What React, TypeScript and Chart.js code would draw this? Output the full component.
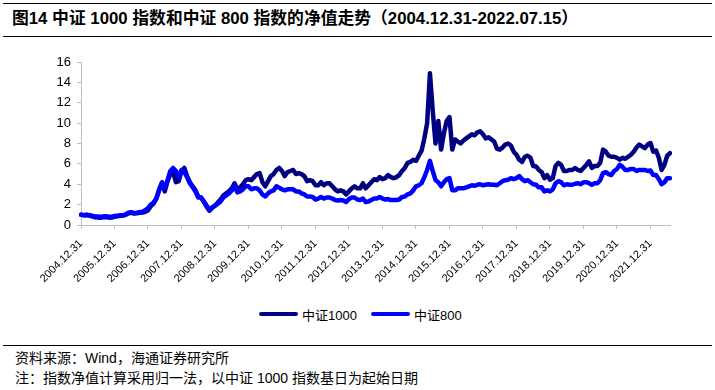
import React, { useEffect, useRef } from "react";
import { Chart, registerables } from "chart.js";
Chart.register(...registerables);

const titleText = "图14 中证 1000 指数和中证 800 指数的净值走势（2004.12.31-2022.07.15）";
const seriesNames = ["中证1000", "中证800"];
const seriesColors = ["#000080", "#0000ff"];
const sourceText = "资料来源：Wind，海通证券研究所";
const noteText = "注：指数净值计算采用归一法，以中证 1000 指数基日为起始日期";

const yearTicks = [
  "2004.12.31", "2005.12.31", "2006.12.31", "2007.12.31", "2008.12.31", "2009.12.31",
  "2010.12.31", "2011.12.31", "2012.12.31", "2013.12.31", "2014.12.31", "2015.12.31",
  "2016.12.31", "2017.12.31", "2018.12.31", "2019.12.31", "2020.12.31", "2021.12.31",
];
const yTicks = [0, 2, 4, 6, 8, 10, 12, 14, 16];

// month-end values, 2004.12 -> 2022.07
const csi1000 = [
  1.0,
  0.95, 0.98, 0.93, 0.86, 0.75, 0.74, 0.7, 0.77, 0.78, 0.72, 0.74, 0.8,
  0.85, 0.9, 0.92, 1.0, 1.15, 1.2, 1.12, 1.15, 1.2, 1.22, 1.3, 1.45,
  1.85, 2.1, 2.6, 3.5, 4.2, 3.3, 4.3, 5.0, 5.2, 4.2, 4.3, 5.3,
  5.6, 4.8, 4.2, 3.8, 3.4, 2.8, 2.7, 2.3, 1.8, 1.4, 1.7, 1.9,
  2.2, 2.5, 2.9, 3.1, 3.3, 3.6, 4.1, 3.5, 3.7, 4.0, 4.4, 4.5,
  4.4, 4.7, 5.0, 5.1, 4.2, 3.8, 4.3, 4.8, 5.0, 5.4, 5.6, 5.3,
  4.8, 5.2, 5.3, 5.4, 5.0, 5.1, 5.0, 4.8, 4.3, 4.4, 4.3, 3.9,
  3.9, 4.2, 3.9, 4.1, 4.1, 3.8, 3.5, 3.3, 3.4, 3.3, 3.0, 3.3,
  3.6, 3.8, 3.6, 3.6, 4.1, 3.6, 3.9, 4.2, 4.5, 4.4, 4.7, 4.5,
  4.6, 4.9, 4.7, 4.6, 4.7, 4.9, 5.3, 5.6, 6.1, 6.2, 6.4, 6.3,
  6.8, 7.3, 8.5, 10.0, 14.9, 11.2, 8.0, 10.2, 7.4, 9.0, 10.2, 10.6,
  7.4, 8.4, 8.2, 8.0, 8.3, 8.5, 8.7, 8.9, 8.8, 9.1, 9.2, 8.9,
  8.5, 8.6, 8.4, 8.2, 7.5, 7.4, 7.6, 7.9, 8.0, 7.8, 7.2, 6.9,
  6.4, 6.2, 6.7, 6.8, 6.6, 5.8, 5.75, 5.4, 5.2, 4.6, 4.9, 4.45,
  4.6, 5.8, 6.1, 5.9, 5.3, 5.3, 5.4, 5.4, 5.6, 5.4, 5.3, 5.6,
  5.9, 6.25, 5.6, 5.8, 5.8, 6.1, 7.4, 7.2, 6.8, 6.7, 6.7, 6.6,
  6.4, 6.6, 6.5, 6.7, 6.9, 7.2, 7.6, 7.9, 7.7, 7.55, 7.9, 8.05,
  7.2, 7.3, 6.6, 5.4, 5.9, 6.8, 7.05,
];
const csi800 = [
  1.0,
  0.97, 1.0, 0.95, 0.9, 0.84, 0.83, 0.8, 0.85, 0.85, 0.82, 0.82, 0.88,
  0.92, 0.95, 0.95, 1.05, 1.2, 1.25, 1.18, 1.2, 1.25, 1.3, 1.45, 1.65,
  2.0, 2.2, 2.6, 3.4, 4.1, 3.6, 4.4, 5.3, 5.6, 5.3, 4.7, 5.4,
  5.2, 4.7, 4.1, 3.7, 3.3, 2.7, 2.7, 2.3, 1.9, 1.5, 1.7, 1.9,
  2.1, 2.3, 2.7, 2.9, 3.1, 3.4, 3.8, 3.2, 3.3, 3.5, 3.8, 3.8,
  3.5, 3.6, 3.6, 3.4, 3.0, 2.8, 3.1, 3.3, 3.4, 3.8, 3.65, 3.5,
  3.4, 3.5, 3.5, 3.5, 3.3, 3.3, 3.1, 3.0, 2.8, 2.8, 2.75, 2.5,
  2.6, 2.75, 2.6, 2.7, 2.7, 2.6, 2.45, 2.4, 2.45, 2.4, 2.25, 2.55,
  2.7, 2.7, 2.5, 2.45, 2.6, 2.25, 2.3, 2.45, 2.6, 2.6, 2.75, 2.6,
  2.5, 2.55, 2.45, 2.45, 2.45, 2.5, 2.75, 2.8, 3.0, 3.1, 3.4, 3.8,
  3.9, 4.1, 4.7, 5.4, 6.3, 5.3, 4.4, 4.2, 3.8, 4.2, 4.5, 4.6,
  3.4, 3.4, 3.6, 3.6, 3.6, 3.7, 3.8, 3.9, 3.85, 3.95, 4.0, 3.9,
  3.95, 4.0, 3.95, 3.95, 3.9, 4.1, 4.3, 4.4, 4.45, 4.6, 4.5, 4.6,
  4.8, 4.5, 4.3, 4.4, 4.2, 4.0, 3.95, 3.7, 3.7, 3.3, 3.4, 3.3,
  3.5, 4.1, 4.3, 4.2, 3.9, 4.0, 3.95, 3.95, 4.05, 4.1, 4.0, 4.2,
  4.2, 4.1, 3.95, 4.1, 4.1, 4.4, 5.1, 5.2, 5.0, 4.9, 5.3, 5.5,
  5.9, 5.7, 5.4, 5.4, 5.5, 5.5, 5.3, 5.4, 5.4, 5.4, 5.3, 5.35,
  4.9, 4.9, 4.5, 4.0, 4.2, 4.6, 4.6,
];

const months: string[] = [];
for (let i = 0; i < csi1000.length; i++) {
  const t = 11 + i;
  months.push(`${2004 + Math.floor(t / 12)}.${String((t % 12) + 1).padStart(2, "0")}`);
}

const latin = '"Liberation Sans", Arial, "Noto Sans CJK SC", sans-serif';
const axisColor = "#bfbfbf";

export default function App() {
  const ref = useRef<HTMLCanvasElement | null>(null);
  useEffect(() => {
    document.body.style.margin = "0";
    if (!ref.current) return;
    const chart = new Chart(ref.current, {
      type: "line",
      data: {
        labels: months,
        datasets: [
          {
            label: seriesNames[0],
            data: csi1000,
            borderColor: seriesColors[0],
            backgroundColor: seriesColors[0],
            borderWidth: 4.5,
            pointRadius: 0,
            borderCapStyle: "round",
            borderJoinStyle: "round",
            order: 1,
          },
          {
            label: seriesNames[1],
            data: csi800,
            borderColor: seriesColors[1],
            backgroundColor: seriesColors[1],
            borderWidth: 4.5,
            pointRadius: 0,
            borderCapStyle: "round",
            borderJoinStyle: "round",
            order: 0,
          },
        ],
      },
      options: {
        animation: false,
        responsive: false,
        maintainAspectRatio: false,
        events: [],
        layout: { padding: { top: 22, right: 45, left: 0, bottom: 0 } },
        plugins: { legend: { display: false }, tooltip: { enabled: false } },
        scales: {
          x: {
            type: "category",
            offset: false,
            border: { display: true, color: axisColor, width: 1 },
            grid: {
              drawOnChartArea: false,
              drawTicks: true,
              tickLength: 4,
              color: (ctx: any) => (ctx.index % 12 === 0 ? axisColor : "rgba(0,0,0,0)"),
            },
            ticks: {
              autoSkip: false,
              minRotation: 45,
              maxRotation: 45,
              padding: 8,
              color: "#000",
              font: { family: latin, size: 11 },
              callback: (_v: any, idx: number) => (idx % 12 === 0 ? yearTicks[idx / 12] ?? "" : ""),
            },
            afterFit: (s: any) => {
              s.height = 70;
              s.paddingLeft = 0;
              s.paddingRight = 0;
            },
          },
          y: {
            min: 0,
            max: 16,
            border: { display: true, color: axisColor, width: 1 },
            grid: { drawOnChartArea: false, tickLength: 4, color: axisColor },
            afterBuildTicks: (s: any) => {
              s.ticks = yTicks.map((v) => ({ value: v }));
            },
            ticks: {
              padding: 6,
              color: "#000",
              font: { family: latin, size: 13 },
            },
            afterFit: (s: any) => {
              s.width = 81;
              s.paddingTop = 0;
              s.paddingBottom = 0;
            },
          },
        },
      },
    });
    return () => chart.destroy();
  }, []);

  const legendItem = (i: number, left: number) => (
    <div style={{ position: "absolute", left, top: 305, height: 18, display: "flex", alignItems: "center" }}>
      <div style={{ width: 39, height: 4, borderRadius: 2, background: seriesColors[i], marginRight: 4 }} />
      <span style={{ fontSize: 13, fontFamily: latin, color: "#000" }}>{seriesNames[i]}</span>
    </div>
  );

  return (
    <div
      style={{
        position: "fixed",
        left: 0,
        top: 0,
        width: 715,
        height: 390,
        background: "#fff",
        fontFamily: latin,
        color: "#000",
        overflow: "hidden",
      }}
    >
      <div style={{ position: "absolute", left: 3, right: 3, top: 3, height: 0, borderTop: "1.5px solid #000" }} />
      <div
        style={{
          position: "absolute",
          left: 12,
          top: 8,
          fontSize: 16.8,
          fontWeight: "bold",
          whiteSpace: "nowrap",
          lineHeight: "22px",
        }}
      >
        {titleText}
      </div>
      <div style={{ position: "absolute", left: 3, right: 3, top: 36, height: 0, borderTop: "1px solid #000" }} />
      <div style={{ position: "absolute", left: 0, top: 40, width: 715, height: 255 }}>
        <canvas ref={ref} width={715} height={255} style={{ width: 715, height: 255, display: "block" }} />
      </div>
      {legendItem(0, 259)}
      {legendItem(1, 371)}
      <div style={{ position: "absolute", left: 3, right: 3, top: 345, height: 0, borderTop: "1px solid #000" }} />
      <div style={{ position: "absolute", left: 15, top: 348, fontSize: 14, lineHeight: "20px", whiteSpace: "nowrap" }}>
        <div>{sourceText}</div>
        <div>{noteText}</div>
      </div>
    </div>
  );
}
